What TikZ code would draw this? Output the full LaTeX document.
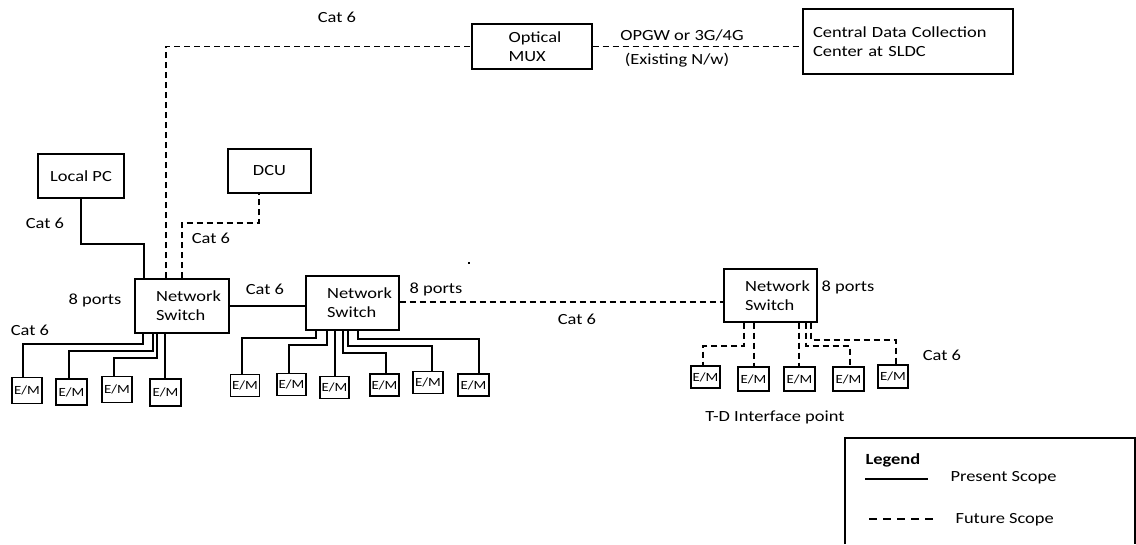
\documentclass[tikz,border=0pt]{standalone}
\usepackage{fontspec}
\setmainfont{Carlito}[FakeStretch=1.19]
\begin{document}
\begin{tikzpicture}[x=1pt,y=-1pt,
  line width=1.1pt,
  box/.style={draw, rectangle, inner sep=0pt, align=left, font=\fontsize{15.5}{19}\selectfont},
  embox/.style={draw, rectangle, inner sep=0pt, minimum width=30pt, minimum height=24pt, font=\fontsize{12.5}{15}\selectfont},
  lbl/.style={inner sep=0pt, anchor=base, font=\fontsize{15.5}{19}\selectfont},
  fut/.style={dash pattern=on 6pt off 4pt},
  pres/.style={}]
\useasboundingbox (0,0) rectangle (1136,544);

% main boxes
\node[box, minimum width=120pt, minimum height=45pt] (mux) at (532,46.5) {\hspace*{6pt}Optical\\\hspace*{6pt}MUX};
\node[box, minimum width=210pt, minimum height=65pt, text width=190pt] (cdc) at (908,41.5) {Central Data Collection\\Center at SLDC};
\node[box, minimum width=86pt, minimum height=44pt] (pc) at (81,176) {Local PC};
\node[box, minimum width=83pt, minimum height=44pt] (dcu) at (269.5,171) {DCU};
\node[box, minimum width=94pt, minimum height=54pt] (sw1) at (182,306) {\hspace*{13pt}Network\\\hspace*{13pt}Switch};
\node[box, minimum width=93pt, minimum height=54pt] (sw2) at (352.5,303) {\hspace*{14pt}Network\\\hspace*{14pt}Switch};
\node[box, minimum width=93pt, minimum height=53pt] (sw3) at (770.5,295.5) {\hspace*{14pt}Network\\\hspace*{14pt}Switch};

% E/M meters
\node[embox, minimum height=26pt] (em11) at (27,390.5) {E/M};
\node[embox, minimum height=26pt, minimum width=31pt] (em12) at (71.5,392) {E/M};
\node[embox, minimum height=26pt] (em13) at (117,389.5) {E/M};
\node[embox, minimum height=27pt, minimum width=31pt] (em14) at (165.5,392.5) {E/M};

\node[embox, minimum width=29pt, minimum height=22pt] (em21) at (245,385.5) {E/M};
\node[embox, minimum width=29pt, minimum height=22pt] (em22) at (291.5,384.5) {E/M};
\node[embox, minimum width=29pt, minimum height=22pt] (em23) at (334.5,387.5) {E/M};
\node[embox, minimum width=29pt, minimum height=22pt] (em24) at (384.5,385) {E/M};
\node[embox, minimum width=30pt, minimum height=22pt] (em25) at (428,382.5) {E/M};
\node[embox, minimum width=31pt, minimum height=22pt] (em26) at (473.5,385) {E/M};

\node[embox, minimum width=29pt, minimum height=22pt] (em31) at (705.5,377) {E/M};
\node[embox, minimum width=31pt, minimum height=24pt] (em32) at (753.5,379) {E/M};
\node[embox, minimum width=31pt, minimum height=24pt] (em33) at (799.5,379) {E/M};
\node[embox, minimum width=31pt, minimum height=24pt] (em34) at (848.5,379) {E/M};
\node[embox, minimum width=30pt, minimum height=23pt] (em35) at (893,376.5) {E/M};

% present scope connectors
\draw[pres] (pc.south) |- (144,244) -- (sw1.north -| 144,0);
\draw[pres] (sw1.east) -- (sw1.east -| sw2.west);
\draw[pres] (sw1.south -| 143,0) |- (23,344) -- (em11.north -| 23,0);
\draw[pres] (sw1.south -| 153,0) |- (69,351) -- (em12.north -| 69,0);
\draw[pres] (sw1.south -| 157,0) |- (114,358) -- (em13.north -| 114,0);
\draw[pres] (sw1.south -| 165,0) -- (em14.north -| 165,0);
\draw[pres] (sw2.south -| 316,0) |- (242,338) -- (em21.north -| 242,0);
\draw[pres] (sw2.south -| 327,0) |- (289,345) -- (em22.north -| 289,0);
\draw[pres] (sw2.south -| 335,0) -- (em23.north -| 335,0);
\draw[pres] (sw2.south -| 343,0) |- (386,353) -- (em24.north -| 386,0);
\draw[pres] (sw2.south -| 348,0) |- (432,346) -- (em25.north -| 432,0);
\draw[pres] (sw2.south -| 358,0) |- (479,339) -- (em26.north -| 479,0);

% future scope connectors
\draw[fut] (sw1.north -| 166,0) |- (mux.west);
\draw[fut] (sw1.north -| 182,0) |- (259,223) -- (dcu.south -| 259,0);
\draw[fut] (mux.east) -- (mux.east -| cdc.west);
\draw[fut] (sw2.east |- 0,302) -- (sw3.west |- 0,302);
\draw[fut] (sw3.south -| 744,0) |- (703,346) -- (em31.north -| 703,0);
\draw[fut] (sw3.south -| 754,0) -- (em32.north -| 754,0);
\draw[fut] (sw3.south -| 799,0) -- (em33.north -| 799,0);
\draw[fut] (sw3.south -| 806,0) |- (850,346) -- (em34.north -| 850,0);
\draw[fut] (sw3.south -| 811,0) |- (896,340) -- (em35.north -| 896,0);

% labels
\node[lbl] (l1) at (337,22) {Cat 6};
\node[lbl] (l2) at (682,40) {OPGW or 3G/4G};
\node[lbl] (l3) at (677,64) {(Existing N/w)};
\node[lbl] (l4) at (45,228) {Cat 6};
\node[lbl] (l5) at (211,243) {Cat 6};
\node[lbl] (l6) at (95,304) {8 ports};
\node[lbl] (l7) at (30,335) {Cat 6};
\node[lbl] (l8) at (265,294) {Cat 6};
\node[lbl] (l9) at (436,293) {8 ports};
\node[lbl] (l10) at (577,324) {Cat 6};
\node[lbl] (l11) at (848,291) {8 ports};
\node[lbl] (l12) at (942,360) {Cat 6};
\node[lbl] (l13) at (775,421) {T-D Interface point};

% stray dot
\fill (468,262) rectangle (470,264);

% legend
\draw (845,544) -- (845,438) -- (1135,438) -- (1135,544);
\node[lbl, anchor=base west, font=\fontsize{15.5}{19}\selectfont\bfseries] (lg) at (865,464) {Legend};
\draw[pres] (865,479) -- (928,479);
\node[lbl, anchor=base west] (lp) at (950,481) {Present Scope};
\draw[dash pattern=on 8pt off 6pt] (869,519) -- (935,519);
\node[lbl, anchor=base west] (lf) at (955,523) {Future Scope};
\end{tikzpicture}
\end{document}
